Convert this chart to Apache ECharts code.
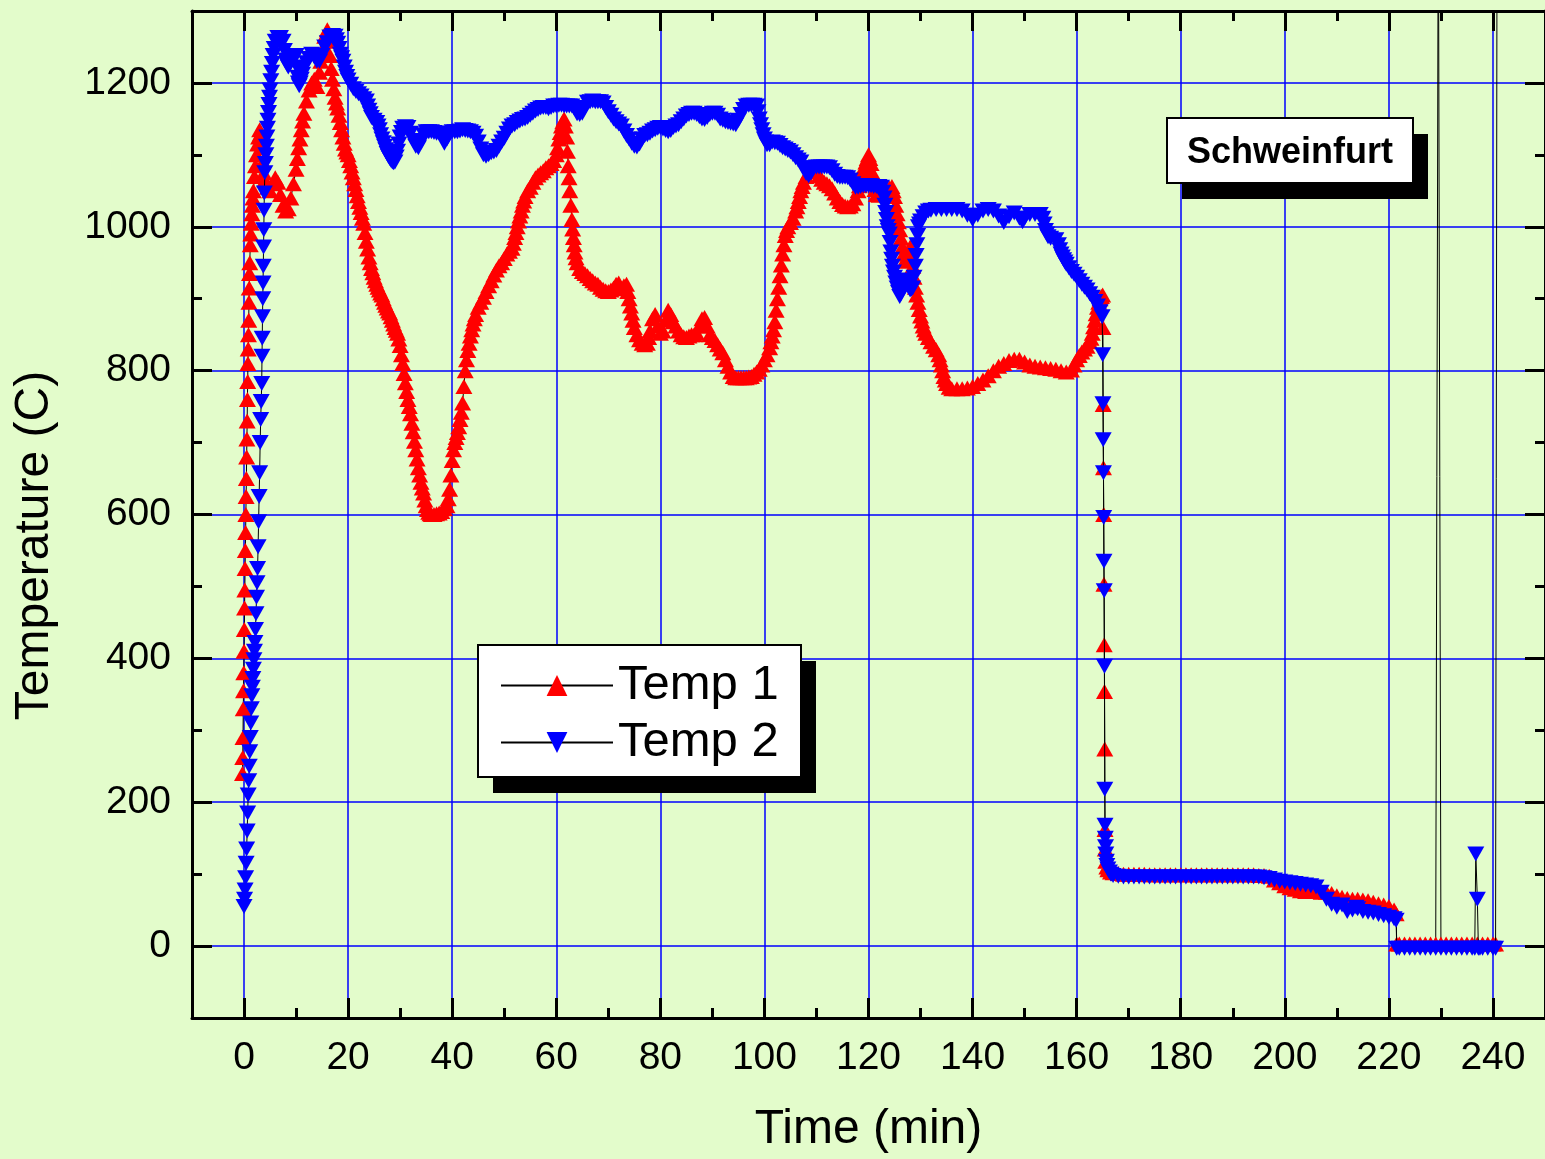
<!DOCTYPE html>
<html>
<head>
<meta charset="utf-8">
<title>Schweinfurt</title>
<script src="https://cdn.jsdelivr.net/npm/echarts@6.0.0/dist/echarts.min.js"></script>
<style>
  html, body { margin: 0; padding: 0; background: #e3fccb; }
  #chart { width: 1545px; height: 1159px; }
</style>
</head>
<body>
<div id="chart"></div>
<script>
// tick labels
const majorX = [0, 20, 40, 60, 80, 100, 120, 140, 160, 180, 200, 220, 240];
const majorY = [0, 200, 400, 600, 800, 1000, 1200];

// Temp 1, [time (min), temperature (C)]
const temp1 = [
  [-0.3,240],[-0.25,262],[-0.2,290],[-0.15,330],[-0.1,355],[-0.05,380],[0,410],[0.05,440],[0.1,470],[0.15,495],
  [0.2,525],[0.25,550],[0.3,575],[0.35,600],[0.4,625],[0.45,650],[0.5,680],[0.55,705],[0.6,730],[0.65,760],
  [0.7,785],[0.75,810],[0.8,830],[0.85,850],[0.9,870],[0.95,895],[1.0,915],[1.05,935],[1.1,950],[1.2,975],
  [1.3,990],[1.4,1005],[1.5,1018],[1.6,1030],[1.7,1040],[1.8,1050],[2.0,1070],[2.2,1085],[2.4,1100],[2.6,1115],
  [2.8,1125],[3.0,1135],[3.2,1130],[3.4,1110],[3.6,1090],[3.8,1075],[4.0,1065],[4.5,1055],[5,1050],[5.5,1060],
  [6,1068],[6.5,1062],[7,1045],[7.5,1030],[8,1022],[8.5,1025],[9,1040],[9.5,1060],[10,1080],[10.25,1095],
  [10.5,1110],[10.75,1122],[11,1135],[11.25,1147],[11.5,1158],[12,1175],[12.5,1190],[13,1200],[13.5,1205],[14,1195],
  [14.5,1215],[14.75,1230],[15,1245],[15.5,1265],[16,1274],[16.25,1258],[16.5,1238],[16.75,1220],[17,1205],[17.25,1192],
  [17.5,1180],[17.75,1172],[18,1165],[18.25,1155],[18.5,1145],[18.75,1135],[19,1125],[19.25,1116],[19.5,1108],[19.75,1104],
  [20,1100],[20.25,1092],[20.5,1085],[20.75,1076],[21,1068],[21.25,1060],[21.5,1052],[21.75,1043],[22,1035],[22.25,1027],
  [22.5,1020],[22.75,1012],[23,1005],[23.25,992],[23.5,980],[23.75,969],[24,958],[24.25,950],[24.5,942],[24.75,936],
  [25,930],[25.25,925],[25.5,920],[25.75,916],[26,912],[26.25,908],[26.5,905],[26.75,900],[27,895],[27.25,891],
  [27.5,887],[27.75,883],[28,880],[28.25,875],[28.5,870],[28.75,865],[29,860],[29.25,856],[29.5,852],[29.75,844],
  [30,835],[30.25,822],[30.5,810],[30.75,796],[31,783],[31.25,771],[31.5,760],[31.75,750],[32,740],[32.25,727],
  [32.5,715],[32.75,702],[33,690],[33.25,677],[33.5,665],[33.75,655],[34,645],[34.25,637],[34.5,630],[34.75,620],
  [35,612],[35.25,607],[35.5,603],[35.75,601],[36,600],[36.5,600],[37,601],[37.5,602],[38,604],[38.5,608],
  [39,612],[39.25,622],[39.5,635],[39.75,655],[40,675],[40.25,690],[40.5,700],[40.75,707],[41,714],[41.25,722],
  [41.5,732],[41.75,742],[42,755],[42.25,778],[42.5,800],[42.75,815],[43,828],[43.25,838],[43.5,848],[43.75,857],
  [44,865],[44.25,872],[44.5,878],[45,888],[45.5,895],[46,902],[46.5,910],[47,918],[47.5,925],[48,933],
  [48.5,940],[49,946],[49.5,950],[50,956],[50.5,962],[51,966],[51.5,970],[51.75,977],[52,985],[52.25,992],
  [52.5,1000],[52.75,1008],[53,1015],[53.25,1022],[53.5,1030],[53.75,1036],[54,1042],[54.5,1050],[55,1055],[55.5,1062],
  [56,1068],[56.5,1072],[57,1075],[57.5,1078],[58,1082],[58.5,1085],[59,1088],[59.5,1092],[60,1100],[60.25,1110],
  [60.5,1122],[60.75,1131],[61,1140],[61.25,1146],[61.5,1150],[61.75,1140],[62,1125],[62.15,1105],[62.3,1085],[62.45,1068],
  [62.6,1050],[62.8,1030],[63,1010],[63.15,997],[63.3,985],[63.45,975],[63.6,965],[63.8,957],[64,950],[64.5,942],
  [65,938],[65.5,935],[66,932],[66.5,928],[67,925],[67.5,922],[68,920],[68.5,916],[69,913],[69.5,911],
  [70,910],[70.5,912],[71,915],[71.5,920],[72,922],[72.5,914],[73,918],[73.5,920],[73.75,910],[74,900],
  [74.25,890],[74.5,880],[74.75,870],[75,860],[75.5,850],[76,843],[76.5,838],[77,836],[77.5,838],[77.75,846],
  [78,855],[78.5,872],[79,878],[79.5,862],[80,852],[80.5,855],[81,870],[81.5,884],[82,878],[82.5,868],
  [83,862],[83.5,855],[84,850],[84.5,847],[85,846],[85.5,848],[86,850],[86.5,850],[87,852],[87.5,862],
  [88,872],[88.5,874],[89,862],[89.5,850],[90,846],[90.5,842],[91,836],[91.5,830],[92,825],[92.5,815],
  [93,806],[93.5,798],[94,792],[94.5,790],[95,790],[95.5,790],[96,790],[96.5,790],[97,791],[97.5,792],
  [98,795],[98.5,798],[99,802],[99.5,808],[100,815],[100.5,822],[101,832],[101.25,840],[101.5,848],[101.75,857],
  [102,868],[102.25,884],[102.5,900],[102.75,916],[103,932],[103.25,947],[103.5,962],[103.75,975],[104,988],[104.25,995],
  [104.5,1000],[105,1006],[105.5,1012],[106,1022],[106.25,1028],[106.5,1035],[106.75,1042],[107,1050],[107.25,1056],[107.5,1062],
  [108,1070],[108.5,1076],[109,1080],[109.5,1083],[110,1078],[110.5,1071],[111,1066],[111.5,1062],[112,1060],[112.5,1057],
  [113,1053],[113.5,1047],[114,1040],[114.5,1035],[115,1031],[115.5,1029],[116,1028],[116.5,1029],[117,1032],[117.5,1040],
  [118,1050],[118.25,1057],[118.5,1064],[118.75,1071],[119,1078],[119.25,1084],[119.5,1090],[119.75,1095],[120,1100],[120.25,1095],
  [120.5,1088],[120.75,1075],[121,1060],[121.25,1052],[121.5,1045],[122,1044],[122.5,1047],[123,1050],[123.5,1052],[124,1054],
  [124.5,1056],[124.75,1050],[125,1042],[125.25,1030],[125.5,1018],[125.75,1007],[126,996],[126.25,984],[126.5,972],[126.75,962],
  [127,953],[127.25,952],[127.5,955],[127.75,963],[128,972],[128.25,960],[128.5,945],[128.75,930],[129,916],[129.25,905],
  [129.5,895],[129.75,885],[130,876],[130.25,869],[130.5,862],[130.75,857],[131,852],[131.5,846],[132,840],[132.5,834],
  [133,829],[133.5,822],[133.75,815],[134,808],[134.25,800],[134.5,792],[134.75,787],[135,782],[135.5,777],[136,775],
  [137,775],[138,775],[139,776],[140,778],[141,782],[142,787],[143,793],[144,800],[145,806],[146,810],
  [147,814],[148,816],[149,816],[150,812],[151,808],[152,806],[153,805],[154,804],[155,803],[156,802],
  [157,800],[158,798],[159,801],[159.5,808],[160,815],[160.5,821],[161,826],[161.5,830],[162,834],[162.5,840],
  [162.75,845],[163,852],[163.25,861],[163.5,870],[163.75,879],[164,888],[164.25,895],[164.5,900],[164.75,903],[165,905],
  [165.05,860],[165.1,753],[165.15,665],[165.2,600],[165.25,503],[165.3,419],[165.35,354],[165.4,274],[165.45,162],[165.5,135],
  [165.6,118],[165.8,110],[166,106],[166.5,103],[167,102],[168,101],[169,100],[170,100],[171,100],[172,100],
  [173,100],[174,99],[175,99],[176,99],[177,99],[178,99],[179,99],[180,99],[181,99],[182,99],
  [183,99],[184,99],[185,99],[186,99],[187,99],[188,99],[189,99],[190,99],[191,99],[192,99],
  [193,99],[194,99],[195,98],[196,98],[197,97],[198,92],[199,88],[200,84],[201,81],[202,79],
  [203,77],[204,76],[205,76],[206,76],[207,75],[208,75],[209,73],[210,70],[211,68],[212,66],
  [213,65],[214,65],[215,64],[216,63],[217,61],[218,59],[219,57],[220,55],[221,50],[221.4,45],
  [221.5,3],[222,3],[223,3],[224,3],[225,3],[226,3],[227,3],[228,3],[229,3],[229.5,1500],
  [230,3],[231,3],[232,3],[233,3],[234,3],[235,3],[236,3],[237,3],[238,3],[239,3],
  [240,3],[240.5,3]
];

// Temp 2, [time (min), temperature (C)]
const temp2 = [
  [0,55],[0.1,65],[0.2,78],[0.3,95],[0.4,115],[0.5,135],[0.6,160],[0.7,185],[0.8,210],[0.9,230],
  [1.0,250],[1.1,270],[1.2,290],[1.3,310],[1.4,330],[1.5,348],[1.6,360],[1.7,372],[1.8,385],[1.9,398],
  [2.0,410],[2.1,422],[2.2,440],[2.3,462],[2.4,485],[2.5,505],[2.6,525],[2.7,555],[2.8,590],[2.9,625],
  [3.0,658],[3.1,700],[3.2,732],[3.3,757],[3.4,782],[3.45,820],[3.5,845],[3.55,875],[3.6,900],[3.65,922],
  [3.7,945],[3.75,972],[3.8,996],[3.85,1023],[3.9,1047],[4.0,1075],[4.1,1088],[4.2,1100],[4.3,1112],[4.4,1125],
  [4.5,1137],[4.6,1148],[4.7,1159],[4.8,1170],[4.9,1180],[5.0,1190],[5.15,1203],[5.3,1215],[5.45,1227],[5.6,1238],
  [5.8,1248],[6.0,1258],[6.5,1263],[7,1263],[7.5,1258],[7.75,1245],[8,1232],[8.25,1226],[8.5,1222],[9,1228],
  [9.5,1236],[10,1238],[10.15,1222],[10.3,1208],[10.45,1200],[10.6,1196],[10.8,1200],[11,1205],[11.25,1212],[11.5,1220],
  [12,1228],[12.5,1234],[13,1240],[13.5,1236],[14,1230],[14.5,1230],[15,1238],[15.5,1250],[16,1256],[16.5,1264],
  [17,1266],[17.5,1265],[17.75,1260],[18,1255],[18.25,1248],[18.5,1240],[18.75,1235],[19,1230],[19.25,1222],[19.5,1215],
  [19.75,1209],[20,1204],[20.5,1198],[21,1192],[21.5,1188],[22,1185],[22.5,1182],[23,1178],[23.5,1175],[23.75,1168],
  [24,1162],[24.25,1157],[24.5,1152],[25,1148],[25.5,1145],[25.75,1140],[26,1135],[26.25,1128],[26.5,1122],[26.75,1117],
  [27,1112],[27.25,1107],[27.5,1102],[27.75,1098],[28,1095],[28.25,1092],[28.5,1090],[28.75,1089],[29,1090],[29.25,1097],
  [29.5,1105],[29.75,1115],[30,1125],[30.25,1131],[30.5,1137],[31,1139],[31.5,1138],[32,1130],[32.5,1120],[33,1112],
  [33.5,1110],[34,1118],[34.5,1128],[35,1132],[35.5,1132],[36,1132],[36.5,1131],[37,1130],[37.5,1130],[38,1128],
  [38.5,1116],[39,1122],[39.5,1130],[40,1132],[40.5,1132],[41,1132],[41.5,1133],[42,1135],[42.5,1134],[43,1133],
  [43.5,1132],[44,1130],[44.5,1126],[45,1118],[45.5,1108],[46,1100],[46.5,1098],[47,1100],[47.5,1103],[48,1104],
  [48.5,1106],[49,1112],[49.5,1118],[50,1123],[50.5,1130],[51,1136],[51.5,1140],[52,1142],[52.5,1145],[53,1147],
  [53.5,1149],[54,1150],[54.5,1152],[55,1155],[55.5,1158],[56,1161],[56.5,1163],[57,1165],[57.5,1166],[58,1166],
  [58.5,1164],[59,1166],[59.5,1168],[60,1168],[60.5,1169],[61,1169],[61.5,1168],[62,1168],[62.5,1168],[63,1168],
  [63.5,1164],[64,1157],[64.5,1156],[65,1158],[65.5,1166],[66,1173],[66.5,1174],[67,1175],[67.5,1174],[68,1174],
  [68.5,1174],[69,1172],[69.5,1166],[70,1160],[70.5,1155],[71,1150],[71.5,1146],[72,1143],[72.5,1140],[73,1133],
  [73.5,1127],[74,1122],[74.5,1116],[75,1112],[75.5,1111],[76,1115],[76.5,1122],[77,1127],[77.5,1128],[78,1130],
  [78.5,1133],[79,1135],[79.5,1137],[80,1138],[80.5,1136],[81,1134],[81.5,1132],[82,1134],[82.5,1138],[83,1140],
  [83.5,1142],[84,1146],[84.5,1150],[85,1154],[85.5,1156],[86,1158],[86.5,1158],[87,1156],[87.5,1153],[88,1150],
  [88.5,1149],[89,1152],[89.5,1156],[90,1158],[90.5,1158],[91,1155],[91.5,1150],[92,1148],[92.5,1146],[93,1145],
  [93.5,1144],[94,1143],[94.5,1142],[95,1148],[95.5,1156],[96,1163],[96.5,1168],[97,1169],[97.5,1169],[98,1169],
  [98.5,1168],[98.75,1160],[99,1150],[99.25,1142],[99.5,1135],[99.75,1128],[100,1122],[100.25,1118],[100.5,1114],[101,1114],
  [101.5,1118],[102,1117],[102.5,1116],[103,1113],[103.5,1110],[104,1108],[104.5,1106],[105,1104],[105.5,1100],[106,1096],
  [106.5,1093],[107,1090],[107.5,1082],[108,1074],[108.5,1071],[109,1075],[109.5,1082],[110,1083],[110.5,1083],[111,1083],
  [111.5,1083],[112,1083],[112.5,1082],[113,1078],[113.5,1073],[114,1070],[114.5,1069],[115,1069],[115.5,1069],[116,1068],
  [116.5,1065],[117,1060],[117.5,1055],[118,1055],[118.5,1056],[119,1057],[119.5,1057],[120,1057],[120.5,1057],[121,1056],
  [121.5,1056],[122,1056],[122.5,1055],[122.75,1048],[123,1040],[123.15,1030],[123.3,1020],[123.45,1010],[123.6,1000],[123.8,995],
  [124,990],[124.15,978],[124.3,965],[124.45,955],[124.6,945],[124.8,937],[125,930],[125.25,922],[125.5,915],[125.75,909],
  [126,903],[126.25,907],[126.5,912],[126.75,919],[127,926],[127.25,923],[127.5,920],[127.75,916],[128,912],[128.25,913],
  [128.5,915],[128.75,930],[129,945],[129.15,960],[129.3,975],[129.45,988],[129.6,1000],[129.8,1004],[130,1008],[130.5,1014],
  [131,1019],[131.5,1022],[132,1023],[133,1024],[134,1024],[135,1024],[136,1024],[137,1024],[138,1022],[139,1016],
  [140,1010],[141,1016],[142,1022],[143,1024],[144,1022],[145,1015],[146,1006],[147,1014],[148,1019],[149,1012],
  [149.6,1007],[150,1012],[151,1017],[152,1017],[153,1017],[153.5,1012],[153.75,1004],[154,995],[154.25,990],[154.5,986],
  [155,984],[156,982],[156.5,975],[156.75,968],[157,962],[157.25,958],[157.5,954],[157.75,951],[158,948],[158.5,943],
  [159,938],[159.5,934],[160,930],[160.5,925],[161,920],[161.5,916],[162,912],[162.5,907],[163,902],[163.5,896],
  [164,890],[164.5,882],[164.9,875],
  [165,822],[165.05,754],[165.1,704],[165.15,658],[165.2,596],[165.25,535],[165.3,494],[165.35,389],[165.4,218],[165.45,168],
  [165.5,150],[165.55,138],[165.6,128],[165.7,118],[165.8,112],[166,107],[166.3,103],[166.6,100],[167,98],[168,97],
  [169,96],[170,96],[171,96],[172,96],[173,96],[174,96],[175,96],[176,96],[177,96],[178,96],
  [179,96],[180,96],[181,96],[182,96],[183,96],[184,96],[185,96],[186,96],[187,96],[188,96],
  [189,96],[190,96],[191,96],[192,96],[193,96],[194,96],[195,96],[196,95],[197,94],[198,92],
  [199,90],[200,89],[201,88],[202,87],[203,86],[204,85],[205,84],[206,82],[207,75],[208,65],
  [209,58],[210,54],[211,57],[212,48],[213,50],[213.7,54],[214,52],[215,48],[216,47],[217,46],
  [218,44],[219,42],[220,40],[221,38],[221.4,36],
  [221.5,-3],[222,-3],[223,-3],[224,-3],[225,-3],[226,-3],[227,-3],[228,-3],[229,-3],[230,-3],
  [231,-3],[232,-3],[233,-3],[234,-3],[235,-3],[236,-3],[236.5,-3],[236.7,128],[237,65],[237.2,-3],
  [237.5,-3],[238,-3],[239,-3],[240,-3],[240.5,-3],[240.8,1500]
];

const font = '"Liberation Sans", Arial, sans-serif';
const black = '#000000';

// axis helpers: a major axis (labels, long ticks, grid lines) and a minor one (short ticks only)
function majorAxis(pos, min, max, step, ticks, showLabel) {
  return {
    type: 'value', position: pos, min: min, max: max, interval: step,
    axisLine: { show: true, onZero: false, lineStyle: { color: black, width: 3 } },
    axisTick: { show: true, inside: true, length: 20, customValues: ticks, lineStyle: { color: black, width: 3 } },
    axisLabel: {
      show: showLabel, customValues: ticks, color: black, fontSize: 39, fontFamily: font, margin: 21,
      formatter: function (v) { return String(v); }
    },
    splitLine: { show: showLabel, lineStyle: { color: '#0000ff', width: 1.5 } },
    z: 1
  };
}
function minorAxis(pos, min, max, step) {
  return {
    type: 'value', position: pos, min: min, max: max, interval: step,
    axisLine: { show: false, onZero: false },
    axisTick: { show: true, inside: true, length: 10, lineStyle: { color: black, width: 3 } },
    axisLabel: { show: false },
    splitLine: { show: false },
    z: 1
  };
}

const xMain = majorAxis('bottom', -10, 250, 10, majorX, true);
xMain.name = 'Time (min)';
xMain.nameLocation = 'middle';
xMain.nameGap = 88;
xMain.nameTextStyle = { color: black, fontSize: 48, fontFamily: font };

const yMain = majorAxis('left', -100, 1300, 100, majorY, true);
yMain.name = 'Temperature (C)';
yMain.nameLocation = 'middle';
yMain.nameGap = 133;
// the title sits a little below the middle of the axis
yMain.nameTextStyle = { color: black, fontSize: 48, fontFamily: font, padding: [0, 62, 0, 0] };

// framed boxes with a hard black drop shadow, behind the legend and the site label
function shadowBox(x, y, w, h) {
  return {
    type: 'group', z: 5,
    children: [
      { type: 'rect', shape: { x: x + 15, y: y + 16, width: w, height: h }, style: { fill: black }, z: 5 },
      { type: 'rect', shape: { x: x, y: y, width: w, height: h }, style: { fill: '#ffffff', stroke: black, lineWidth: 2 }, z: 5 }
    ]
  };
}

const chart = echarts.init(document.getElementById('chart'));
chart.setOption({
  animation: false,
  backgroundColor: '#e3fccb',
  textStyle: { fontFamily: font },
  graphic: [
    shadowBox(1167, 118, 246, 65),
    shadowBox(478, 645, 323, 132)
  ],
  title: {
    text: 'Schweinfurt',
    left: 1187, top: 135,
    padding: 0,
    z: 10,
    textStyle: { color: black, fontSize: 36, fontWeight: 'bold', fontFamily: font }
  },
  legend: {
    orient: 'vertical',
    left: 500, top: 661,
    padding: 0,
    itemGap: 8,
    itemWidth: 112, itemHeight: 26,
    z: 10,
    textStyle: { color: black, fontSize: 49, fontFamily: font },
    data: ['Temp 1', 'Temp 2']
  },
  grid: { left: 192, top: 11, width: 1354, height: 1008, containLabel: false },
  xAxis: [
    xMain,
    minorAxis('bottom', -10, 250, 10),
    majorAxis('top', -10, 250, 10, majorX, false),
    minorAxis('top', -10, 250, 10)
  ],
  yAxis: [
    yMain,
    minorAxis('left', -100, 1300, 100),
    majorAxis('right', -100, 1300, 100, majorY, false),
    minorAxis('right', -100, 1300, 100)
  ],
  series: [
    {
      name: 'Temp 1', type: 'line', xAxisIndex: 0, yAxisIndex: 0,
      data: temp1,
      symbol: 'triangle', symbolSize: [17, 15], showAllSymbol: true,
      itemStyle: { color: '#ff0000' },
      lineStyle: { color: black, width: 1 },
      z: 3
    },
    {
      name: 'Temp 2', type: 'line', xAxisIndex: 0, yAxisIndex: 0,
      data: temp2,
      symbol: 'path://M0,0L10,0L5,8.7Z', symbolSize: [17, 15], showAllSymbol: true,
      itemStyle: { color: '#0000ff' },
      lineStyle: { color: black, width: 1 },
      z: 4
    }
  ]
});
</script>
</body>
</html>
